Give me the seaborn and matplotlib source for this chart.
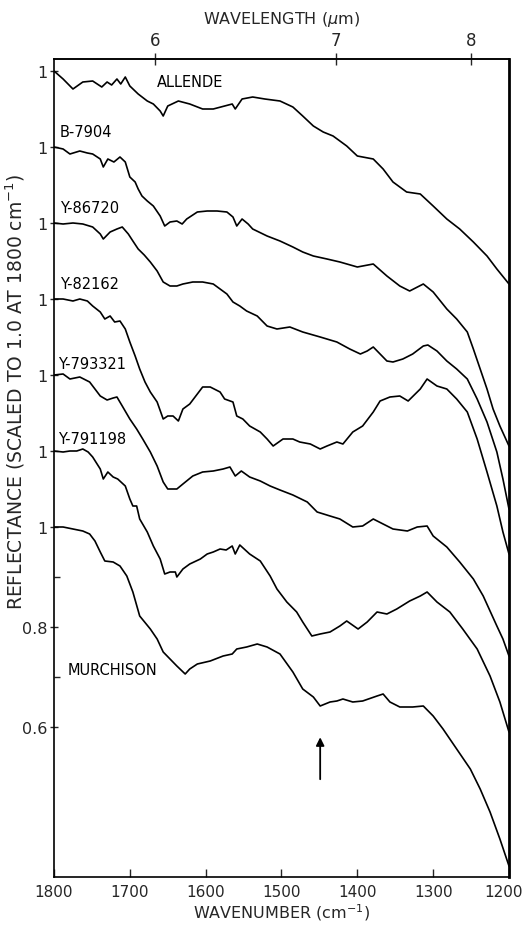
import numpy as np
import pandas as pd
import matplotlib
matplotlib.use("Agg")
import matplotlib.pyplot as plt
import matplotlib.transforms as mtransforms
import seaborn as sns

# ---------------- data ----------------
samples = ["ALLENDE", "B-7904", "Y-86720", "Y-82162", "Y-793321", "Y-791198", "MURCHISON"]
offsets = [0.912, 0.760, 0.608, 0.456, 0.304, 0.152, 0.0]

allende_wn = [1800, 1788, 1775, 1762, 1749, 1737, 1730, 1724, 1717, 1712, 1706, 1700, 1689, 1677, 1669, 1660,
              1656, 1650, 1636, 1621, 1604, 1590, 1575, 1565, 1561, 1552, 1538, 1522, 1502, 1485, 1472, 1458,
              1445, 1432, 1414, 1400, 1379, 1366, 1353, 1335, 1317, 1300, 1282, 1265, 1247, 1229, 1216, 1200]
allende_r = [1.0, 0.984, 0.964, 0.978, 0.98, 0.968, 0.978, 0.972, 0.984, 0.974, 0.988, 0.97, 0.954, 0.94, 0.934, 0.92,
             0.91, 0.93, 0.94, 0.934, 0.924, 0.924, 0.93, 0.934, 0.924, 0.944, 0.948, 0.944, 0.94, 0.928, 0.91, 0.89,
             0.878, 0.87, 0.85, 0.83, 0.824, 0.804, 0.778, 0.758, 0.754, 0.73, 0.704, 0.684, 0.658, 0.63, 0.604, 0.574]

b7904_wn = [1800, 1788, 1779, 1766, 1756, 1749, 1739, 1735, 1729, 1721, 1713, 1706, 1700, 1693, 1689, 1684,
            1677, 1669, 1660, 1654, 1647, 1638, 1631, 1625, 1611, 1598, 1585, 1572, 1564, 1559, 1552, 1544,
            1538, 1519, 1502, 1485, 1472, 1458, 1440, 1423, 1400, 1379, 1361, 1344, 1331, 1313, 1300, 1282,
            1269, 1255, 1247, 1238, 1229, 1221, 1212, 1200]
b7904_r = [1.0, 0.996, 0.986, 0.992, 0.988, 0.986, 0.976, 0.96, 0.976, 0.97, 0.98, 0.97, 0.94, 0.93, 0.916, 0.902,
           0.892, 0.882, 0.862, 0.842, 0.85, 0.852, 0.846, 0.856, 0.87, 0.872, 0.872, 0.87, 0.86, 0.842, 0.856, 0.846,
           0.836, 0.822, 0.812, 0.8, 0.79, 0.782, 0.776, 0.77, 0.76, 0.766, 0.742, 0.722, 0.712, 0.726, 0.71, 0.676,
           0.656, 0.63, 0.596, 0.556, 0.516, 0.476, 0.442, 0.402]

y86720_wn = [1800, 1788, 1775, 1762, 1749, 1739, 1735, 1726, 1717, 1710, 1702, 1696, 1689, 1681, 1673, 1664,
             1656, 1647, 1638, 1630, 1617, 1604, 1590, 1581, 1572, 1564, 1555, 1546, 1532, 1519, 1506, 1489,
             1472, 1449, 1427, 1410, 1396, 1387, 1379, 1370, 1361, 1353, 1340, 1327, 1313, 1307, 1295, 1282,
             1269, 1255, 1242, 1229, 1216, 1208, 1200]
y86720_r = [1.0, 0.998, 1.0, 0.998, 0.992, 0.978, 0.968, 0.982, 0.988, 0.992, 0.978, 0.964, 0.948, 0.936, 0.922, 0.904,
            0.882, 0.874, 0.874, 0.878, 0.882, 0.882, 0.878, 0.868, 0.858, 0.842, 0.834, 0.824, 0.814, 0.794, 0.788, 0.792,
            0.782, 0.772, 0.762, 0.748, 0.738, 0.744, 0.752, 0.738, 0.724, 0.722, 0.728, 0.738, 0.754, 0.756, 0.744, 0.724,
            0.708, 0.688, 0.648, 0.602, 0.542, 0.488, 0.428]

y82162_wn = [1800, 1788, 1775, 1766, 1756, 1749, 1739, 1733, 1726, 1720, 1713, 1706, 1700, 1693, 1687, 1680,
             1673, 1664, 1656, 1650, 1643, 1636, 1630, 1621, 1611, 1604, 1594, 1581, 1575, 1564, 1559, 1551,
             1542, 1528, 1519, 1511, 1498, 1485, 1476, 1462, 1449, 1440, 1427, 1419, 1406, 1393, 1379, 1370,
             1357, 1344, 1333, 1317, 1308, 1295, 1282, 1269, 1255, 1242, 1229, 1216, 1208, 1200]
y82162_r = [1.0, 1.0, 0.996, 1.0, 0.996, 0.986, 0.974, 0.96, 0.966, 0.954, 0.956, 0.94, 0.914, 0.886, 0.86, 0.834,
            0.814, 0.794, 0.76, 0.766, 0.766, 0.756, 0.78, 0.79, 0.81, 0.824, 0.824, 0.814, 0.8, 0.794, 0.766, 0.76,
            0.746, 0.734, 0.72, 0.706, 0.72, 0.72, 0.714, 0.71, 0.7, 0.706, 0.714, 0.71, 0.734, 0.746, 0.774, 0.796,
            0.804, 0.806, 0.796, 0.82, 0.84, 0.826, 0.82, 0.8, 0.774, 0.72, 0.654, 0.586, 0.534, 0.49]

y793321_wn = [1800, 1788, 1779, 1766, 1753, 1739, 1730, 1722, 1717, 1710, 1700, 1691, 1683, 1673, 1664, 1656,
              1650, 1638, 1630, 1617, 1604, 1590, 1577, 1568, 1561, 1553, 1542, 1528, 1515, 1502, 1485, 1466,
              1453, 1436, 1423, 1406, 1393, 1379, 1366, 1353, 1334, 1321, 1308, 1300, 1282, 1265, 1247, 1234,
              1225, 1216, 1208, 1200]
y793321_r = [1.0, 1.002, 0.992, 0.996, 0.986, 0.958, 0.95, 0.954, 0.956, 0.938, 0.912, 0.892, 0.872, 0.846, 0.818, 0.786,
             0.772, 0.772, 0.782, 0.798, 0.806, 0.808, 0.812, 0.816, 0.798, 0.808, 0.796, 0.788, 0.778, 0.77, 0.76, 0.746,
             0.726, 0.718, 0.712, 0.696, 0.698, 0.712, 0.702, 0.692, 0.688, 0.696, 0.698, 0.678, 0.656, 0.626, 0.592, 0.558,
             0.528, 0.498, 0.472, 0.438]

y791198_wn = [1800, 1788, 1779, 1770, 1762, 1755, 1749, 1739, 1735, 1729, 1722, 1716, 1706, 1700, 1696, 1691,
              1687, 1677, 1669, 1660, 1654, 1647, 1640, 1638, 1630, 1621, 1607, 1598, 1590, 1581, 1573, 1565,
              1561, 1555, 1542, 1528, 1515, 1506, 1493, 1480, 1472, 1460, 1449, 1436, 1423, 1414, 1399, 1387,
              1374, 1361, 1348, 1331, 1317, 1308, 1295, 1278, 1261, 1242, 1225, 1212, 1200]
y791198_r = [1.0, 0.998, 1.0, 1.0, 1.004, 0.998, 0.988, 0.964, 0.944, 0.958, 0.948, 0.944, 0.93, 0.904, 0.89, 0.89,
             0.864, 0.838, 0.81, 0.784, 0.754, 0.758, 0.758, 0.748, 0.764, 0.774, 0.784, 0.794, 0.798, 0.804, 0.802, 0.81,
             0.794, 0.812, 0.794, 0.78, 0.75, 0.724, 0.698, 0.678, 0.658, 0.63, 0.634, 0.638, 0.65, 0.66, 0.644, 0.658,
             0.678, 0.674, 0.684, 0.7, 0.71, 0.718, 0.698, 0.678, 0.644, 0.604, 0.55, 0.498, 0.438]

murchison_wn = [1800, 1788, 1775, 1762, 1753, 1746, 1739, 1733, 1722, 1713, 1704, 1696, 1687, 1673, 1664, 1656,
                1647, 1638, 1627, 1621, 1611, 1594, 1577, 1565, 1559, 1546, 1532, 1519, 1502, 1485, 1472, 1458,
                1449, 1436, 1427, 1419, 1406, 1393, 1374, 1366, 1357, 1344, 1327, 1313, 1300, 1287, 1269, 1251,
                1238, 1225, 1212, 1200]
murchison_r = [1.0, 1.0, 0.996, 0.992, 0.986, 0.972, 0.95, 0.932, 0.93, 0.922, 0.902, 0.87, 0.822, 0.796, 0.776, 0.75,
               0.736, 0.722, 0.706, 0.716, 0.726, 0.732, 0.742, 0.746, 0.756, 0.76, 0.766, 0.76, 0.746, 0.71, 0.676, 0.66,
               0.642, 0.65, 0.652, 0.656, 0.65, 0.652, 0.662, 0.666, 0.65, 0.64, 0.64, 0.642, 0.622, 0.596, 0.556, 0.516,
               0.476, 0.43, 0.376, 0.322]

wavenumbers = [allende_wn, b7904_wn, y86720_wn, y82162_wn, y793321_wn, y791198_wn, murchison_wn]
reflectances = [allende_r, b7904_r, y86720_r, y82162_r, y793321_r, y791198_r, murchison_r]

xticks = [1800, 1700, 1600, 1500, 1400, 1300, 1200]
top_ticks = [6, 7, 8]
arrow_wn = 1449

# ---------------- build table ----------------
frames = []
for name, off, wn, r in zip(samples, offsets, wavenumbers, reflectances):
    frames.append(pd.DataFrame({"sample": name, "wavenumber": wn,
                                "value": np.array(r) + off}))
df = pd.concat(frames, ignore_index=True)

# ---------------- plot ----------------
sns.set_theme(style="white")
plt.rcParams["font.family"] = ["DejaVu Sans"]
fig = plt.figure(figsize=(5.25, 9.29), dpi=100)
ax = fig.add_axes([54 / 525, 1 - 878 / 929, 455 / 525, 818 / 929])

sns.lineplot(data=df, x="wavenumber", y="value", units="sample", estimator=None,
             sort=False, color="black", linewidth=1.2, ax=ax)

ax.set_xlim(1800, 1200)
ax.set_ylim(0.3, 1.936)

for sp in ax.spines.values():
    sp.set_color("black")
    sp.set_linewidth(1.2)
ax.spines["right"].set_linewidth(2.0)

ax.set_xticks(xticks)
ax.set_xticklabels([str(t) for t in xticks])
ytick_pos = [1 + o for o in offsets] + [0.8, 0.6]
ytick_lab = ["1"] * len(offsets) + ["0.8", "0.6"]
ax.set_yticks(ytick_pos)
ax.set_yticklabels(ytick_lab)
ax.set_yticks([0.9, 0.7], minor=True)
ax.tick_params(axis="x", which="major", direction="in", length=6, width=1,
               labelsize=11, pad=5, bottom=True, top=False)
ax.tick_params(axis="y", which="major", direction="inout", length=6, width=1,
               labelsize=11.5, pad=2, left=True)
ax.tick_params(axis="y", which="minor", direction="in", length=4, width=1, left=True)

# keep the last bottom tick label inside the figure
last_lab = ax.get_xticklabels()[-1]
last_lab.set_transform(last_lab.get_transform() +
                       mtransforms.ScaledTranslation(-5 / 100, 0, fig.dpi_scale_trans))

ax.set_xlabel("WAVENUMBER (cm$^{-1}$)", fontsize=11.5, labelpad=2)
ax.set_ylabel("REFLECTANCE (SCALED TO 1.0 AT 1800 cm$^{-1}$)", fontsize=13.5)
ax.yaxis.set_label_coords(-0.06, 0.594)

sec = ax.secondary_xaxis("top", functions=(lambda w: 1e4 / np.maximum(w, 1e-9),
                                           lambda l: 1e4 / np.maximum(l, 1e-9)))
sec.set_xticks(top_ticks)
sec.set_xticklabels([str(t) for t in top_ticks])
sec.tick_params(direction="inout", length=8, width=1, labelsize=12, pad=3)
sec.set_xlabel("WAVELENGTH ($\\mu$m)", fontsize=11.5, labelpad=6)

# curve labels
label_x = [1664, 1792, 1792, 1792, 1795, 1795, 1782]
label_dy = [-0.036, 0.016, 0.016, 0.016, 0.008, 0.010, -0.300]
for name, off, lx, dy in zip(samples, offsets, label_x, label_dy):
    ax.text(lx, 1 + off + dy, name, fontsize=10.5, ha="left", va="bottom", color="black")

# arrow
ax.annotate("", xy=(arrow_wn, 0.585), xytext=(arrow_wn, 0.49),
            arrowprops=dict(arrowstyle="-|>", color="black", lw=1.3, mutation_scale=12))

fig.savefig("out.png", dpi=100, facecolor="white")
